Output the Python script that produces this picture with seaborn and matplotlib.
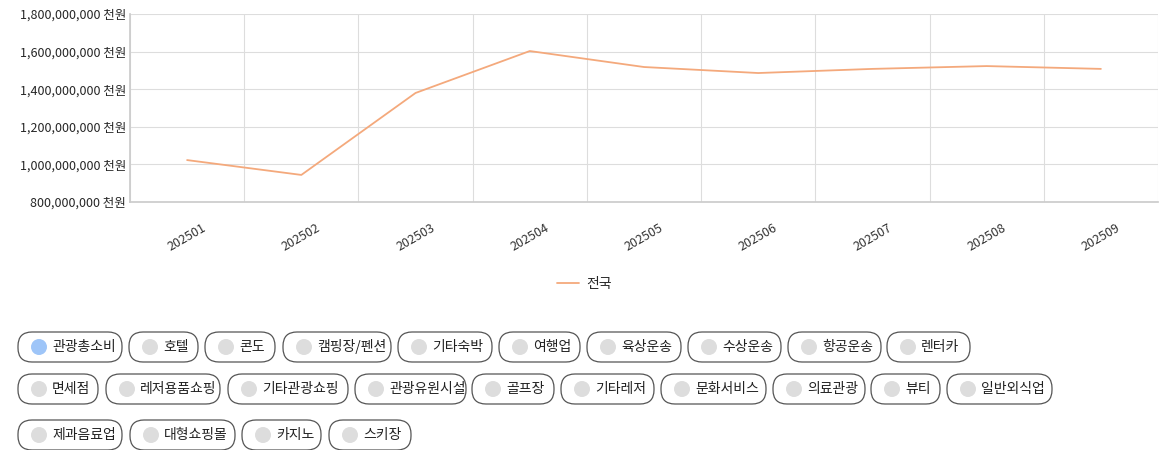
import matplotlib
matplotlib.use("Agg")
import matplotlib.pyplot as plt
import seaborn as sns
import pandas as pd
from matplotlib.patches import FancyBboxPatch, Circle
from matplotlib.ticker import FuncFormatter, FixedLocator

months = ["202501","202502","202503","202504","202505","202506","202507","202508","202509"]
values = [1023e6, 944e6, 1380e6, 1603e6, 1518e6, 1486e6, 1508e6, 1523e6, 1508e6]
series_name = "전국"
buttons_row1 = ["관광총소비","호텔","콘도","캠핑장/펜션","기타숙박","여행업","육상운송","수상운송","항공운송","렌터카"]
buttons_row2 = ["면세점","레저용품쇼핑","기타관광쇼핑","관광유원시설","골프장","기타레저","문화서비스","의료관광","뷰티","일반외식업"]
buttons_row3 = ["제과음료업","대형쇼핑몰","카지노","스키장"]

sns.set_theme(style="white")
plt.rcParams['font.family'] = ['Noto Sans CJK KR', 'DejaVu Sans']

W, H = 1174, 450
fig = plt.figure(figsize=(W/100, H/100), dpi=100)
ax = fig.add_axes([130/W, 1-202/H, (1158-130)/W, (202-14)/H])
df = pd.DataFrame({"month": months, "value": values, "s": series_name})
sns.lineplot(data=df, x="month", y="value", hue="s", palette=["#f4a97c"], ax=ax, sort=False, linewidth=1.3, legend=False)
ax.set_xlim(-0.5, len(months)-0.5)
ax.set_ylim(800e6, 1800e6)
ax.set_yticks([800e6,1000e6,1200e6,1400e6,1600e6,1800e6])
ax.yaxis.set_major_formatter(FuncFormatter(lambda v, p: f"{int(v):,} 천원"))
ax.set_xticks(range(len(months)))
ax.set_xticklabels(months, rotation=30, fontsize=9, ha="center")
ax.xaxis.set_minor_locator(FixedLocator([i-0.5 for i in range(len(months)+1)]))
ax.grid(False)
ax.grid(True, which="minor", axis="x", color="#dddddd", linewidth=0.8)
ax.grid(True, which="major", axis="y", color="#dddddd", linewidth=0.8)
ax.tick_params(axis="y", labelsize=9, length=0, pad=3)
ax.tick_params(axis="x", length=0, pad=14)
ax.set_xlabel(""); ax.set_ylabel("")
for s in ["top","right","bottom"]:
    ax.spines[s].set_visible(False)
ax.spines["left"].set_color("#cccccc")
ax.spines["bottom"].set_visible(True); ax.spines["bottom"].set_color("#cccccc")
for lab in ax.get_xticklabels():
    lab.set_color("#333333")

from matplotlib.lines import Line2D
fig.legend(handles=[Line2D([0],[0],color="#f4a97c",lw=1.3)], labels=[series_name],
           loc="center", bbox_to_anchor=(584/W, 1-284/H), frameon=False, fontsize=10,
           handlelength=1.6, handletextpad=0.5)

rows = [
    (347, buttons_row1, [18,129,205,283,398,499,587,688,788,887], [122,198,275,391,492,580,681,781,881,970]),
    (389, buttons_row2, [18,106,228,355,472,561,661,773,871,947], [98,220,348,466,554,654,766,865,940,1052]),
    (435, buttons_row3, [18,130,242,329], [122,235,321,411]),
]
bh = 30
for yc, labels, xs, xe in rows:
    for i, (lab, x0, x1) in enumerate(zip(labels, xs, xe)):
        y0 = H - yc - bh/2
        p = FancyBboxPatch((x0/W, y0/H), (x1-x0)/W, bh/H,
                           boxstyle=f"round,pad=0,rounding_size={14/W}", transform=fig.transFigure,
                           facecolor="white", edgecolor="#555555", linewidth=0.9, mutation_aspect=W/H)
        fig.patches.append(p)
        col = "#9ec5f8" if (yc == 347 and i == 0) else "#dddddd"
        from matplotlib.patches import Ellipse
        fig.patches.append(Ellipse(((x0+21)/W, 1-yc/H), 16/W, 16/H, transform=fig.transFigure,
                                   facecolor=col, edgecolor="none"))
        fig.text((x0+34)/W, 1-yc/H, lab, fontsize=10, va="center", ha="left", color="#222222")

fig.savefig("out.png", dpi=100)
